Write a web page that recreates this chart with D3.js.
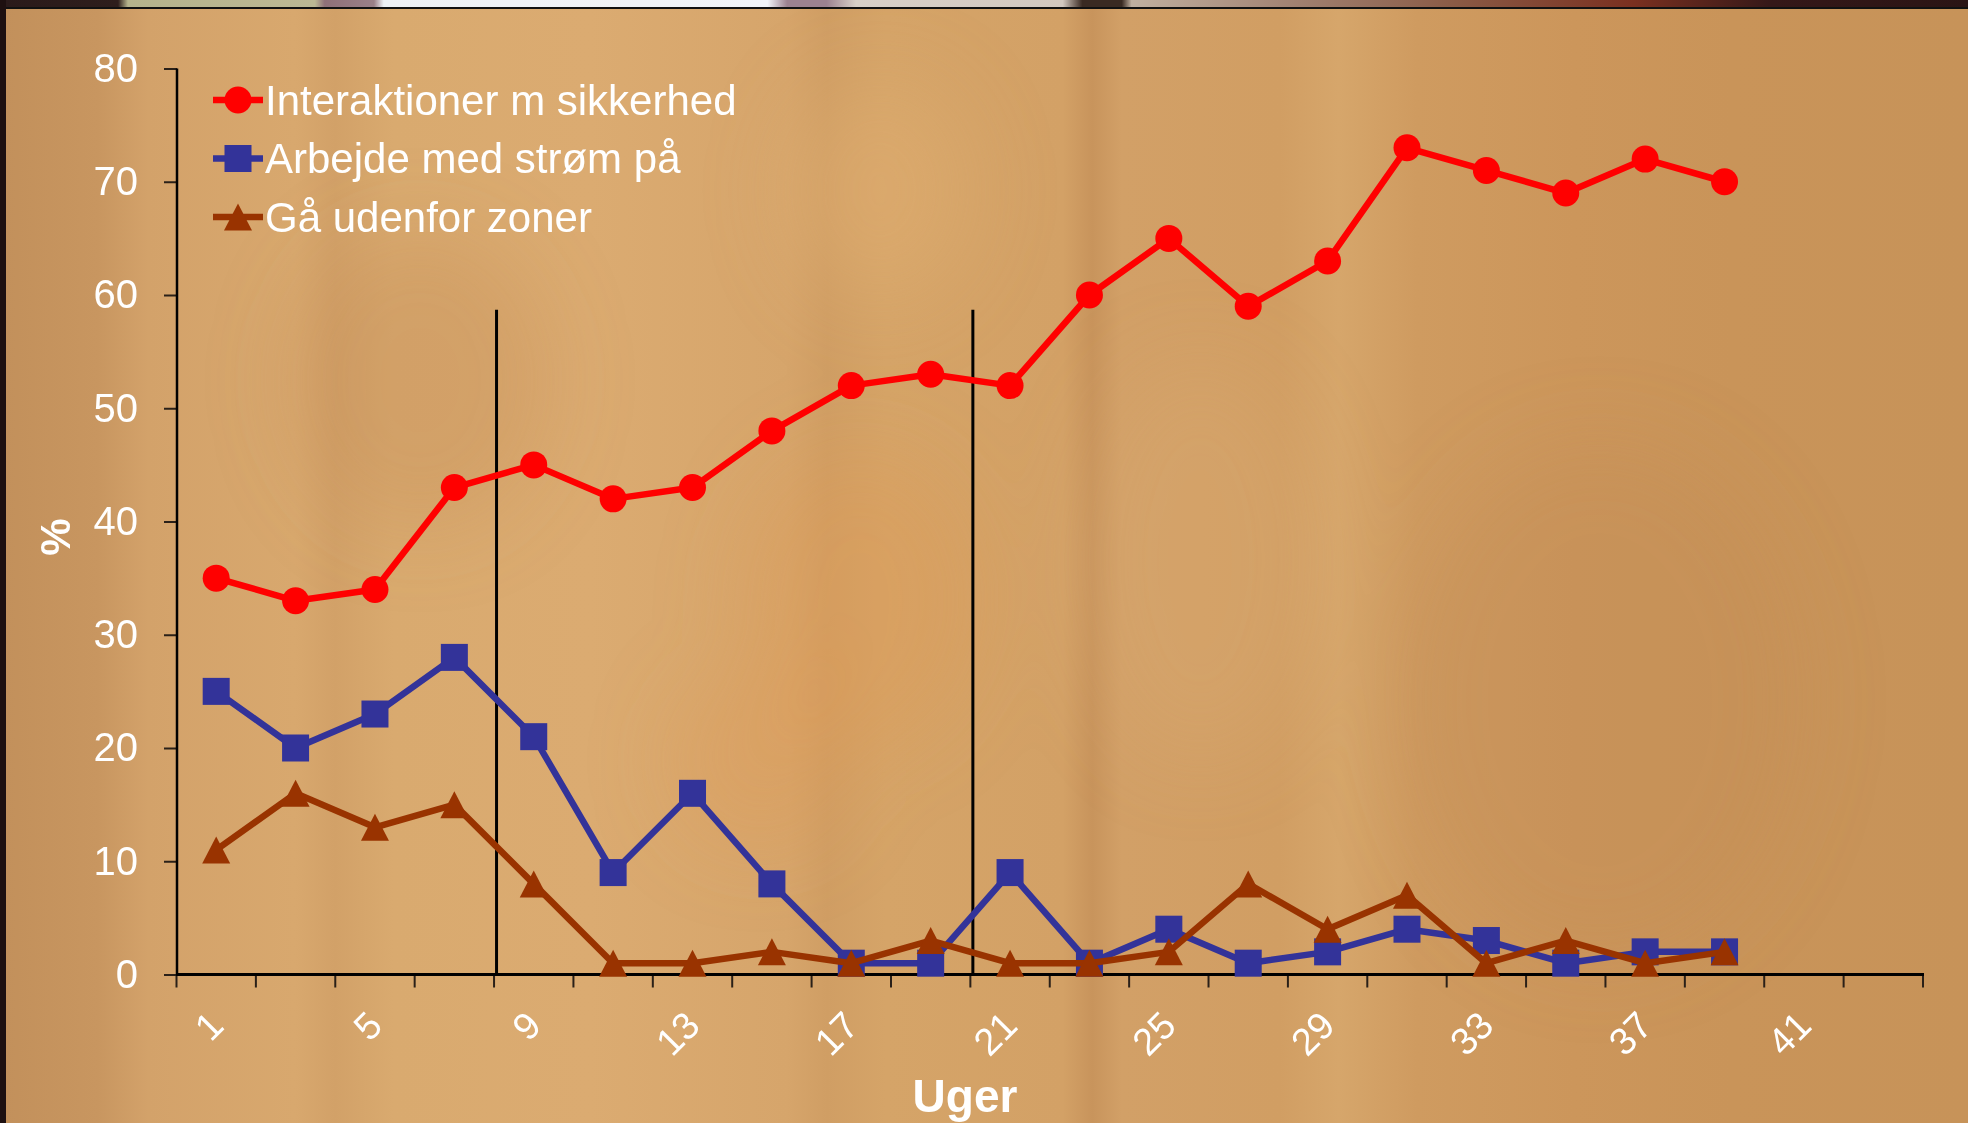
<!DOCTYPE html>
<html><head><meta charset="utf-8">
<script src="https://cdn.jsdelivr.net/npm/d3@7"></script>
<style>html,body{margin:0;padding:0;background:#c8955d;overflow:hidden} svg{display:block}</style>
</head><body>
<svg id="chart" width="1968" height="1123"></svg>
<script>
// ---------- data ----------
const categories = [1,3,5,7,9,11,13,15,17,19,21,23,25,27,29,31,33,35,37,39,41,43];
const xTickLabels = [1,5,9,13,17,21,25,29,33,37,41];
const yTicks = [0,10,20,30,40,50,60,70,80];
const seriesNames = ["Interaktioner m sikkerhed","Arbejde med strøm på","Gå udenfor zoner"];
const interaktioner = [35,33,34,43,45,42,43,48,52,53,52,60,65,59,63,73,71,69,72,70];
const arbejdeStrom  = [25,20,23,28,21,9,16,8,1,1,9,1,4,1,2,4,3,1,2,2];
const gaaUdenfor    = [11,16,13,15,8,1,1,2,1,3,1,1,2,8,4,7,1,3,1,2];
const phaseLines = [{before:9, top:58.7},{before:21, top:58.7}];
const xTitle = "Uger";
const yTitle = "%";

// ---------- setup ----------
const W = 1968, H = 1123;
const svg = d3.select("#chart");
const FONT = "'Liberation Sans', Arial, Helvetica, sans-serif";
const defs = svg.append("defs");

// background gradient (blurred photo look)
const bgStops = [
  [0,"#c2905b"],[0.05,"#c89660"],[0.075,"#d3a26a"],[0.15,"#d8a86e"],[0.17,"#d2a168"],
  [0.2,"#d9aa6f"],[0.3,"#dbab71"],[0.4,"#d6a56b"],[0.42,"#d09e64"],[0.45,"#d5a468"],
  [0.54,"#d3a166"],[0.555,"#c8945c"],[0.57,"#d2a067"],[0.65,"#d19e63"],[0.68,"#d6a66b"],
  [0.72,"#cf9b60"],[0.8,"#cc965b"],[0.88,"#c99459"],[1,"#c79359"]
];
const bg = defs.append("linearGradient").attr("id","bg").attr("x1",0).attr("x2",1).attr("y1",0).attr("y2",0);
bg.selectAll("stop").data(bgStops).join("stop").attr("offset",d=>d[0]).attr("stop-color",d=>d[1]);

const stripStops = [
  [0,"#2a1a1a"],[0.06,"#2e1e1c"],[0.065,"#b5b38c"],[0.16,"#bcb894"],[0.165,"#8f7078"],
  [0.19,"#9a8088"],[0.195,"#eef1f5"],[0.39,"#f2f4f8"],[0.4,"#9c8290"],[0.42,"#9c8290"],
  [0.435,"#d8d0c8"],[0.54,"#d2c8bf"],[0.55,"#3a2a22"],[0.57,"#3a2a22"],[0.575,"#c0b0a0"],
  [0.66,"#a08070"],[0.74,"#8a5a45"],[0.83,"#7a3020"],[0.9,"#351818"],[1,"#2a1414"]
];
const sg = defs.append("linearGradient").attr("id","strip").attr("x1",0).attr("x2",1).attr("y1",0).attr("y2",0);
sg.selectAll("stop").data(stripStops).join("stop").attr("offset",d=>d[0]).attr("stop-color",d=>d[1]);

defs.append("filter").attr("id","blur").attr("x","-50%").attr("y","-50%").attr("width","200%").attr("height","200%")
  .append("feGaussianBlur").attr("stdDeviation",40);

svg.append("rect").attr("width",W).attr("height",H).attr("fill","url(#bg)");
const blobs = [
  {cx:880, cy:190, rx:90, ry:110, c:"#e0b070", o:0.45},
  {cx:860, cy:600, rx:120, ry:150, c:"#e09a55", o:0.35},
  {cx:760, cy:760, rx:90, ry:90, c:"#e09a55", o:0.3},
  {cx:420, cy:380, rx:130, ry:150, c:"#c28b55", o:0.3},
  {cx:1200, cy:560, rx:120, ry:200, c:"#d9aa70", o:0.3},
  {cx:1600, cy:700, rx:200, ry:260, c:"#c08a52", o:0.3}
];
svg.append("g").attr("filter","url(#blur)").selectAll("ellipse").data(blobs).join("ellipse")
  .attr("cx",d=>d.cx).attr("cy",d=>d.cy).attr("rx",d=>d.rx).attr("ry",d=>d.ry)
  .attr("fill",d=>d.c).attr("opacity",d=>d.o);

// top photo strip and borders
svg.append("rect").attr("x",0).attr("y",0).attr("width",W).attr("height",8).attr("fill","url(#strip)");
svg.append("rect").attr("x",0).attr("y",7).attr("width",W).attr("height",2).attr("fill","#111");
svg.append("rect").attr("x",0).attr("y",0).attr("width",6).attr("height",H).attr("fill","#1e1010");

// ---------- scales ----------
const x = d3.scaleBand().domain(categories).range([176.5, 1923]).padding(0);
const y = d3.scaleLinear().domain([0,80]).range([974.5, 68.5]);
const cx = c => x(c) + x.bandwidth()/2;

// phase lines
svg.append("g").selectAll("line").data(phaseLines).join("line")
  .attr("x1",d=>x(d.before)+2.5).attr("x2",d=>x(d.before)+2.5)
  .attr("y1",d=>y(d.top)).attr("y2",y(0))
  .attr("stroke","#000").attr("stroke-width",3);

// y axis
const yAxis = svg.append("g").attr("transform","translate(177,0)")
  .call(d3.axisLeft(y).tickValues(yTicks).tickSize(13).tickPadding(26));
yAxis.select(".domain").remove();
yAxis.selectAll(".tick line").attr("stroke","#2a2018").attr("stroke-width",2);
yAxis.selectAll(".tick text").attr("fill","#fff").attr("font-size",40).attr("font-family",FONT);
svg.append("line").attr("x1",177).attr("x2",177).attr("y1",y(80)).attr("y2",y(0)+1.5)
  .attr("stroke","#000").attr("stroke-width",2.5);

// x axis
const xEdges = categories.map(c => x(c)).concat([x.range()[1]]);
svg.append("g").selectAll("line").data(xEdges).join("line")
  .attr("x1",d=>d).attr("x2",d=>d).attr("y1",y(0)).attr("y2",y(0)+13)
  .attr("stroke","#2a2018").attr("stroke-width",2);
const xAxis = svg.append("g").attr("transform",`translate(0,${y(0)})`)
  .call(d3.axisBottom(x).tickValues(xTickLabels).tickSize(0));
xAxis.select(".domain").remove();
xAxis.selectAll(".tick text")
  .attr("y",0).attr("dy","0.35em").attr("x",0)
  .attr("transform","translate(0,44) rotate(-45)")
  .attr("text-anchor","end")
  .attr("fill","#fff").attr("font-size",38).attr("font-family",FONT);
svg.append("line").attr("x1",176).attr("x2",x.range()[1]+1).attr("y1",y(0)).attr("y2",y(0))
  .attr("stroke","#000").attr("stroke-width",3);

// ---------- series ----------
const triPath = (w,h) => `M0,${-h/2}L${w/2},${h/2}L${-w/2},${h/2}Z`;
const series = [
  {name:seriesNames[0], values:interaktioner, color:"#ff0000", marker:"circle"},
  {name:seriesNames[1], values:arbejdeStrom,  color:"#333399", marker:"square"},
  {name:seriesNames[2], values:gaaUdenfor,    color:"#993300", marker:"triangle"}
];
function drawMarker(g, type, color){
  if(type==="circle") g.append("circle").attr("r",13.5).attr("fill",color);
  else if(type==="square") g.append("rect").attr("x",-13.5).attr("y",-13.5).attr("width",27).attr("height",27).attr("fill",color);
  else g.append("path").attr("d",triPath(28,27)).attr("fill",color);
}
const line = d3.line().x((d,i)=>cx(categories[i])).y(d=>y(d));
series.forEach(s=>{
  const g = svg.append("g");
  g.append("path").attr("d",line(s.values)).attr("fill","none")
    .attr("stroke",s.color).attr("stroke-width",6.5).attr("stroke-linejoin","round");
  g.selectAll("g.m").data(s.values).join("g").attr("class","m")
    .attr("transform",(d,i)=>`translate(${cx(categories[i])},${y(d)})`)
    .each(function(){ drawMarker(d3.select(this), s.marker, s.color); });
});

// ---------- legend ----------
const legend = svg.append("g");
series.forEach((s,i)=>{
  const g = legend.append("g").attr("transform",`translate(0,${100 + i*58.5})`);
  g.append("line").attr("x1",213).attr("x2",263).attr("y1",0).attr("y2",0)
    .attr("stroke",s.color).attr("stroke-width",6.5);
  const m = g.append("g").attr("transform","translate(238,0)");
  drawMarker(m, s.marker, s.color);
  g.append("text").attr("x",265).attr("y",0).attr("dy","0.35em")
    .attr("fill","#fff").attr("font-size",42).attr("font-family",FONT).text(s.name);
});

// ---------- titles ----------
svg.append("text").attr("transform","translate(55,537) rotate(-90)").attr("dy","0.35em")
  .attr("text-anchor","middle").attr("fill","#fff").attr("font-weight","bold")
  .attr("font-size",42).attr("font-family",FONT).text(yTitle);
svg.append("text").attr("x",965).attr("y",1112).attr("text-anchor","middle")
  .attr("fill","#fff").attr("font-weight","bold").attr("font-size",46).attr("font-family",FONT).text(xTitle);
</script>
</body></html>
